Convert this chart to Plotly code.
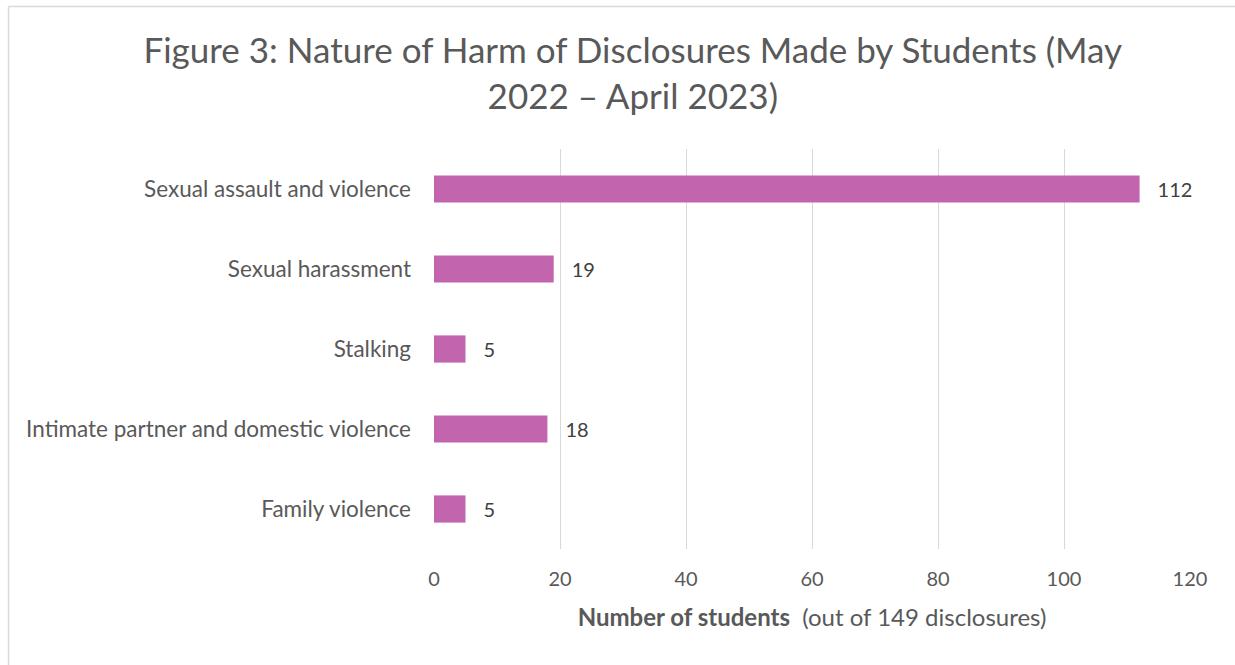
import plotly.graph_objects as go

categories = [
    "Sexual assault and violence",
    "Sexual harassment",
    "Stalking",
    "Intimate partner and domestic violence",
    "Family violence",
]
students = [112, 19, 5, 18, 5]
x_ticks = [0, 20, 40, 60, 80, 100, 120]

W, H = 1235, 665
ML, MR, MT, MB = 434, 45, 149, 116
plot_w = W - ML - MR
plot_h = H - MT - MB

FONT = "Lato"
GREY = "#595959"

fig = go.Figure(
    go.Bar(
        x=students,
        y=categories,
        orientation="h",
        marker=dict(color="#C365AE", line=dict(width=0)),
        width=0.34,
        text=[str(v) for v in students],
        texttemplate="\u2003%{text}",
        textposition="outside",
        textfont=dict(family=FONT, size=20, color="#404040"),
        cliponaxis=False,
        hoverinfo="skip",
    )
)

# chart frame: top and left edges
def px_x(p):
    return (p - ML) / plot_w

def px_y(p):
    return (H - MB - p) / plot_h

fig.add_shape(type="line", xref="paper", yref="paper",
              x0=px_x(8.5), x1=px_x(1235), y0=px_y(6.5), y1=px_y(6.5),
              line=dict(color="#d9d9d9", width=1.5))
fig.add_shape(type="line", xref="paper", yref="paper",
              x0=px_x(8.5), x1=px_x(8.5), y0=px_y(6.5), y1=px_y(665),
              line=dict(color="#d9d9d9", width=1.5))

fig.update_layout(
    width=W,
    height=H,
    margin=dict(l=ML, r=MR, t=MT, b=MB),
    paper_bgcolor="white",
    plot_bgcolor="white",
    showlegend=False,
    font=dict(family=FONT, color=GREY),
    title=dict(
        text="Figure 3: Nature of Harm of Disclosures Made by Students (May<br>2022 – April 2023)",
        x=0.5124,
        xanchor="center",
        xref="container",
        y=1 - 63 / H,
        yref="container",
        yanchor="top",
        font=dict(family=FONT, size=35, color=GREY),
    ),
    xaxis=dict(
        range=[0, 120],
        tickvals=x_ticks,
        showgrid=True,
        gridcolor="#d9d9d9",
        gridwidth=1,
        zeroline=False,
        showline=False,
        ticks="",
        ticklabelstandoff=16,
        tickfont=dict(family=FONT, size=20, color=GREY),
        title=dict(
            text="<b>Number of students</b>  (out of 149 disclosures)",
            font=dict(family=FONT, size=24, color=GREY),
            standoff=20,
        ),
        fixedrange=True,
    ),
    yaxis=dict(
        categoryorder="array",
        categoryarray=categories,
        autorange="reversed",
        showgrid=False,
        zeroline=False,
        showline=False,
        ticks="",
        ticklabelstandoff=22,
        tickfont=dict(family=FONT, size=22.5, color=GREY),
        fixedrange=True,
    ),
)

fig.write_html("out.html")
